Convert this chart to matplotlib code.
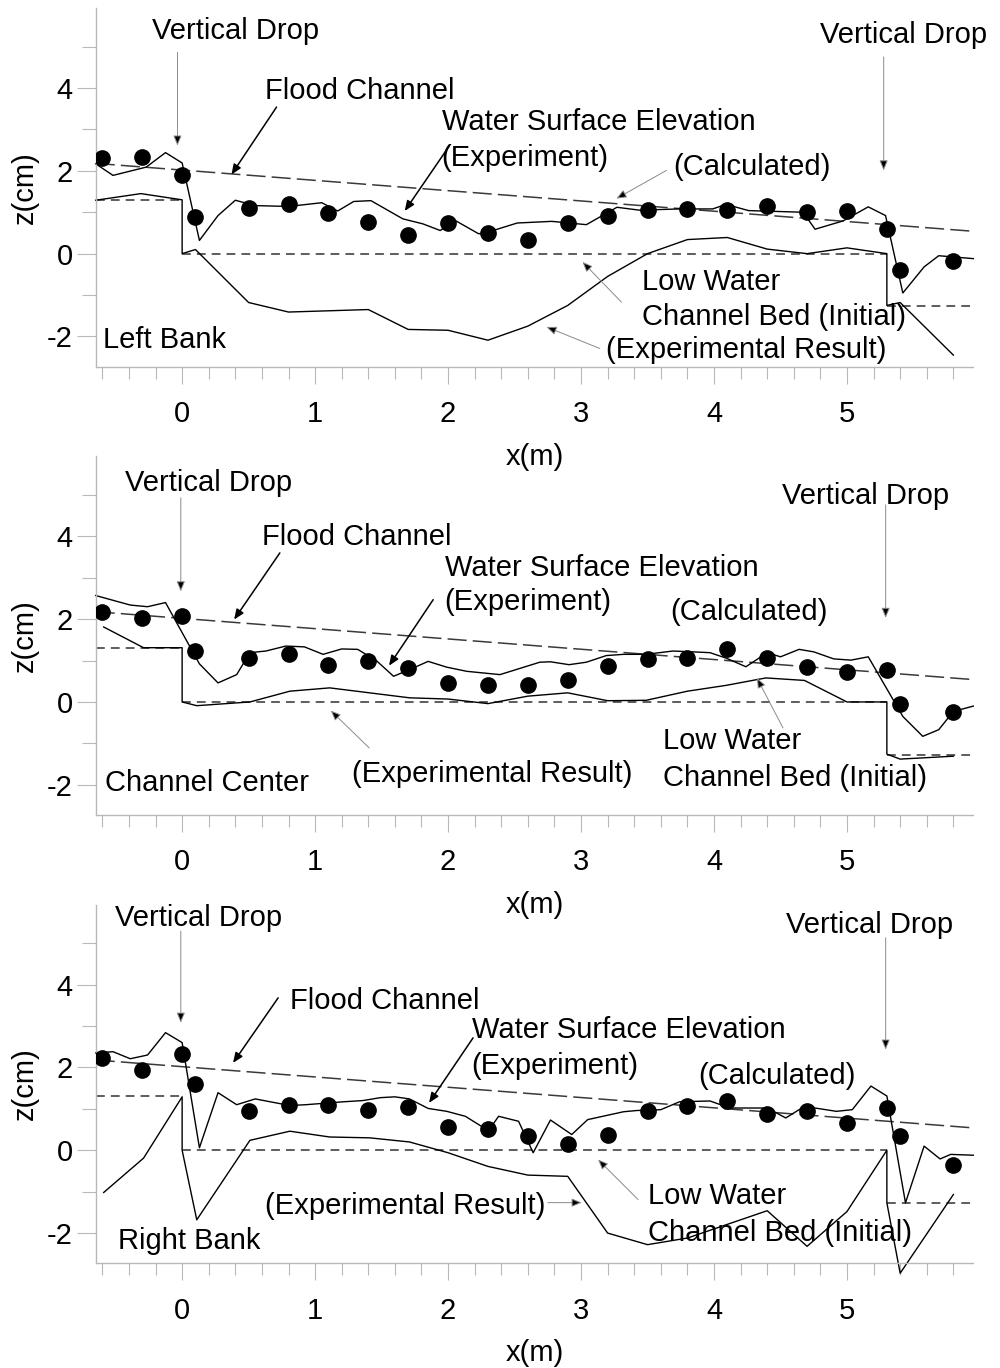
import matplotlib
matplotlib.use("Agg")
import matplotlib.pyplot as plt
import numpy as np

plt.rcParams['font.family'] = ['Liberation Sans', 'DejaVu Sans']
plt.rcParams['axes.unicode_minus'] = False

# --- posizioni delle misure puntuali (m) ---
dot_x = [-0.6, -0.3, 0.0, 0.1, 0.5, 0.8, 1.1, 1.4, 1.7, 2.0, 2.3, 2.6,
         2.9, 3.2, 3.5, 3.8, 4.1, 4.4, 4.7, 5.0, 5.3, 5.4, 5.8]

left_dots = [2.32, 2.33, 1.91, 0.88, 1.10, 1.21, 0.97, 0.76, 0.44, 0.74, 0.50, 0.34,
             0.75, 0.91, 1.06, 1.09, 1.05, 1.15, 1.00, 1.04, 0.60, -0.40, -0.18]
center_dots = [2.17, 2.03, 2.07, 1.24, 1.05, 1.15, 0.90, 1.00, 0.82, 0.46, 0.42, 0.42,
               0.52, 0.88, 1.04, 1.05, 1.28, 1.06, 0.85, 0.73, 0.77, -0.04, -0.25]
right_dots = [2.23, 1.95, 2.33, 1.60, 0.94, 1.10, 1.10, 0.98, 1.04, 0.56, 0.52, 0.34,
              0.15, 0.36, 0.96, 1.06, 1.19, 0.88, 0.94, 0.66, 1.02, 0.34, -0.36]

# --- superficie libera misurata (linea continua) ---
left_ws_x = [-0.65, -0.52, -0.27, -0.125, 0.0, 0.13, 0.27, 0.40, 0.55, 0.80,
             1.05, 1.17, 1.29, 1.42, 1.66, 1.81, 1.94, 2.06, 2.23, 2.30,
             2.52, 2.78, 3.04, 3.27, 3.44, 3.74, 3.99, 4.09, 4.26, 4.67,
             4.76, 4.97, 5.16, 5.29, 5.42, 5.58, 5.69, 5.95]
left_ws_z = [2.17, 1.89, 2.09, 2.44, 2.19, 0.32, 0.92, 1.29, 1.16, 1.14,
             1.23, 1.03, 1.26, 1.28, 0.84, 0.72, 0.56, 0.79, 0.48, 0.52,
             0.74, 0.78, 0.70, 1.12, 1.05, 1.08, 1.08, 1.19, 1.04, 1.00,
             0.59, 0.79, 1.13, 0.92, -0.95, -0.32, -0.05, -0.12]

center_ws_x = [-0.65, -0.39, -0.26, -0.125, 0.13, 0.27, 0.41, 0.51, 0.63, 0.78,
               0.92, 1.06, 1.20, 1.32, 1.46, 1.59, 1.71, 1.85, 1.99, 2.14,
               2.39, 2.69, 2.77, 2.91, 3.04, 3.19, 3.32, 3.49, 3.69, 3.84,
               3.97, 4.09, 4.24, 4.40, 4.50, 4.64, 4.75, 4.90, 5.03, 5.16,
               5.42, 5.57, 5.69, 5.80, 5.95]
center_ws_z = [2.57, 2.34, 2.30, 2.40, 0.92, 0.46, 0.66, 1.19, 1.23, 1.35,
               1.33, 1.15, 1.28, 1.27, 1.00, 0.62, 0.78, 0.98, 0.84, 0.74,
               0.66, 0.96, 0.97, 0.90, 0.96, 1.12, 1.15, 1.15, 1.23, 1.21,
               1.19, 1.06, 0.85, 1.19, 1.09, 1.27, 1.21, 1.04, 1.01, 1.09,
               -0.35, -0.83, -0.67, -0.23, -0.10]

right_ws_x = [-0.65, -0.52, -0.39, -0.26, -0.125, 0.0, 0.13, 0.27, 0.41, 0.55,
              0.81, 0.93, 1.21, 1.36, 1.49, 1.60, 1.71, 1.85, 1.99, 2.13,
              2.25, 2.31, 2.38, 2.53, 2.64, 2.77, 2.93, 3.05, 3.32, 3.42,
              3.60, 3.74, 3.97, 4.12, 4.40, 4.54, 4.68, 4.92, 5.04, 5.18,
              5.30, 5.44, 5.58, 5.70, 5.78, 5.95]
right_ws_z = [2.35, 2.38, 2.21, 2.30, 2.84, 2.60, 0.06, 1.39, 1.10, 1.24,
              1.08, 1.10, 1.17, 1.20, 1.27, 1.29, 1.24, 1.01, 0.94, 0.82,
              0.58, 0.50, 0.82, 0.70, -0.06, 0.73, 0.38, 0.74, 0.93, 0.96,
              0.98, 1.17, 1.19, 1.02, 1.02, 0.78, 1.06, 0.94, 0.98, 1.55,
              1.31, -1.27, 0.10, -0.21, -0.10, -0.12]

# --- fondo dopo l'esperimento (linea continua) ---
left_bed_x = [-0.65, -0.31, 0.0, 0.0, 0.1, 0.5, 0.8, 1.4, 1.7, 2.0, 2.3, 2.6,
              2.9, 3.2, 3.5, 3.8, 4.1, 4.4, 4.7, 5.0, 5.3, 5.3, 5.4, 5.8]
left_bed_z = [1.29, 1.45, 1.30, 0.0, 0.10, -1.18, -1.41, -1.35, -1.83, -1.85, -2.09, -1.75,
              -1.25, -0.55, 0.0, 0.34, 0.39, 0.11, 0.0, 0.14, 0.0, -1.25, -1.18, -2.45]

center_bed_x = [-0.59, -0.29, 0.0, 0.0, 0.11, 0.51, 0.81, 1.11, 1.41, 1.71, 2.0, 2.3,
                2.6, 2.9, 3.2, 3.49, 3.8, 4.09, 4.39, 4.68, 5.0, 5.3, 5.3, 5.4, 5.8]
center_bed_z = [1.81, 1.31, 1.31, 0.0, -0.09, 0.0, 0.26, 0.34, 0.22, 0.10, 0.07, -0.04,
                0.14, 0.22, 0.03, 0.04, 0.26, 0.40, 0.58, 0.52, 0.0, 0.0, -1.26, -1.38, -1.31]

right_bed_x = [-0.59, -0.29, 0.0, 0.0, 0.11, 0.51, 0.81, 1.11, 1.41, 1.71, 2.0, 2.3,
               2.6, 2.9, 3.2, 3.5, 3.8, 4.4, 4.7, 5.0, 5.3, 5.3, 5.4, 5.8]
right_bed_z = [-1.02, -0.19, 1.29, 0.0, -1.68, 0.24, 0.46, 0.32, 0.30, 0.20, -0.06, -0.39,
               -0.60, -0.63, -2.00, -2.28, -2.12, -1.46, -2.32, -1.48, 0.0, -1.27, -2.97, -1.07]

# --- fondo iniziale (tratteggio corto) e pelo libero golena (tratteggio lungo) ---
init_bed_x = [-0.65, 0.0, np.nan, 0.0, 5.3, np.nan, 5.3, 5.95]
init_bed_z = [1.3, 1.3, np.nan, 0.0, 0.0, np.nan, -1.27, -1.27]
flood_x = [-0.65, 5.95]
flood_z = [2.18, 0.54]

FS = 21
GRIGIO = '#b8b8b8'

# testi: (stringa, x, z)
testi = [
    [("Vertical Drop", -0.228, 5.37), ("Flood Channel", 0.622, 3.94),
     ("Water Surface Elevation", 1.952, 3.17), ("(Experiment)", 1.952, 2.32),
     ("(Calculated)", 3.69, 2.09), ("Vertical Drop", 4.795, 5.27),
     ("Low Water", 3.456, -0.686), ("Channel Bed (Initial)", 3.456, -1.53),
     ("(Experimental Result)", 3.191, -2.33), ("Left Bank", -0.596, -2.09)],
    [("Vertical Drop", -0.431, 5.29), ("Flood Channel", 0.599, 3.99),
     ("Water Surface Elevation", 1.975, 3.235), ("(Experiment)", 1.975, 2.405),
     ("(Calculated)", 3.672, 2.163), ("Vertical Drop", 4.514, 4.964),
     ("Low Water", 3.614, -0.951), ("Channel Bed (Initial)", 3.614, -1.835),
     ("(Experimental Result)", 1.276, -1.75), ("Channel Center", -0.58, -1.955)],
    [("Vertical Drop", -0.506, 5.60), ("Flood Channel", 0.81, 3.60),
     ("Water Surface Elevation", 2.178, 2.914), ("(Experiment)", 2.178, 2.028),
     ("(Calculated)", 3.885, 1.787), ("Vertical Drop", 4.541, 5.45),
     ("Low Water", 3.501, -1.11), ("Channel Bed (Initial)", 3.501, -1.994),
     ("(Experimental Result)", 0.622, -1.352), ("Right Bank", -0.483, -2.197)],
]

# frecce: (coda, punta, nera?)
frecce = [
    [((-0.035, 4.86), (-0.035, 2.61), False), ((0.71, 3.54), (0.371, 1.91), True),
     ((2.012, 2.615), (1.674, 1.03), True), ((3.642, 2.01), (3.266, 1.33), False),
     ((5.276, 4.75), (5.276, 2.01), False), ((3.304, -1.17), (3.011, -0.20), False),
     ((3.141, -2.29), (2.74, -1.77), False)],
    [((-0.01, 4.93), (-0.01, 2.67), False), ((0.735, 3.60), (0.391, 1.99), True),
     ((1.888, 2.47), (1.556, 0.876), True), ((5.291, 4.76), (5.291, 2.03), False),
     ((4.519, -0.628), (4.323, 0.579), False), ((1.407, -1.11), (1.118, -0.21), False)],
    [((-0.01, 5.29), (-0.01, 3.08), False), ((0.722, 3.68), (0.383, 2.11), True),
     ((2.188, 2.714), (1.857, 1.144), True), ((5.291, 5.13), (5.291, 2.43), False),
     ((3.429, -1.19), (3.128, -0.225), False), ((2.75, -1.265), (3.005, -1.265), False)],
]


def disegna_pannello(ax, ws_x, ws_z, bed_x, bed_z, dots, testi_p, frecce_p):
    ax.patch.set_visible(False)
    ax.plot(init_bed_x, init_bed_z, color='#3a3a3a', lw=1.15, dashes=(5.5, 3.8))
    ax.plot(flood_x, flood_z, color='#3a3a3a', lw=1.1, dashes=(12.5, 4.0))
    ax.plot(bed_x, bed_z, color='black', lw=1.0, clip_on=False)
    ax.plot(ws_x, ws_z, color='black', lw=1.0, clip_on=False)
    ax.plot(dot_x, dots, 'o', color='black', ms=11, zorder=5)

    for s, x, z in testi_p:
        ax.text(x, z, s, fontsize=FS, ha='left', va='center')

    for coda, punta, nera in frecce_p:
        if nera:
            props = dict(arrowstyle='-|>,head_length=0.6,head_width=0.25',
                         color='black', lw=1.1, shrinkA=0, shrinkB=0)
        else:
            props = dict(arrowstyle='-|>,head_length=0.6,head_width=0.25',
                         ec='#8a8a8a', fc='black', lw=0.7, shrinkA=0, shrinkB=0)
        ax.annotate('', xy=punta, xytext=coda, arrowprops=props)

    ax.set_xlim(-0.65, 5.95)
    ax.set_ylim(-2.73, 5.93)
    for lato in ['top', 'right']:
        ax.spines[lato].set_visible(False)
    for lato in ['left', 'bottom']:
        ax.spines[lato].set_color(GRIGIO)
        ax.spines[lato].set_linewidth(1.0)

    ax.set_xticks(range(0, 6))
    ax.set_xticks([t for t in np.round(np.arange(-0.6, 5.81, 0.2), 1)
                   if abs(t - round(t)) > 1e-6], minor=True)
    ax.set_yticks([-2, 0, 2, 4])
    ax.set_yticks([-1, 1, 3, 5], minor=True)
    ax.tick_params(axis='x', which='major', length=12, width=0.8, color=GRIGIO,
                   labelsize=FS, pad=12)
    ax.tick_params(axis='x', which='minor', length=8.6, width=0.8, color=GRIGIO)
    ax.tick_params(axis='y', which='major', length=13.5, width=0.8, color=GRIGIO,
                   labelsize=FS, pad=3)
    ax.tick_params(axis='y', which='minor', length=10, width=0.8, color=GRIGIO)

    ax.text(0.5, -0.251, 'x(m)', transform=ax.transAxes, fontsize=FS,
            ha='center', va='center')
    ax.text(-0.0806, 0.5, 'z(cm)', transform=ax.transAxes, fontsize=FS,
            rotation=90, ha='center', va='center')


fig = plt.figure(figsize=(10, 13.68), dpi=100)
H = 1368.0
basi = [366.7, 815.0, 1263.3]
pannelli = [
    (left_ws_x, left_ws_z, left_bed_x, left_bed_z, left_dots),
    (center_ws_x, center_ws_z, center_bed_x, center_bed_z, center_dots),
    (right_ws_x, right_ws_z, right_bed_x, right_bed_z, right_dots),
]

for i, (wx, wz, bx, bz, dd) in enumerate(pannelli):
    ax = fig.add_axes([0.0957, 1 - basi[i] / H, 0.8776, 358.6 / H])
    disegna_pannello(ax, wx, wz, bx, bz, dd, testi[i], frecce[i])

fig.savefig("out.png", dpi=100)
